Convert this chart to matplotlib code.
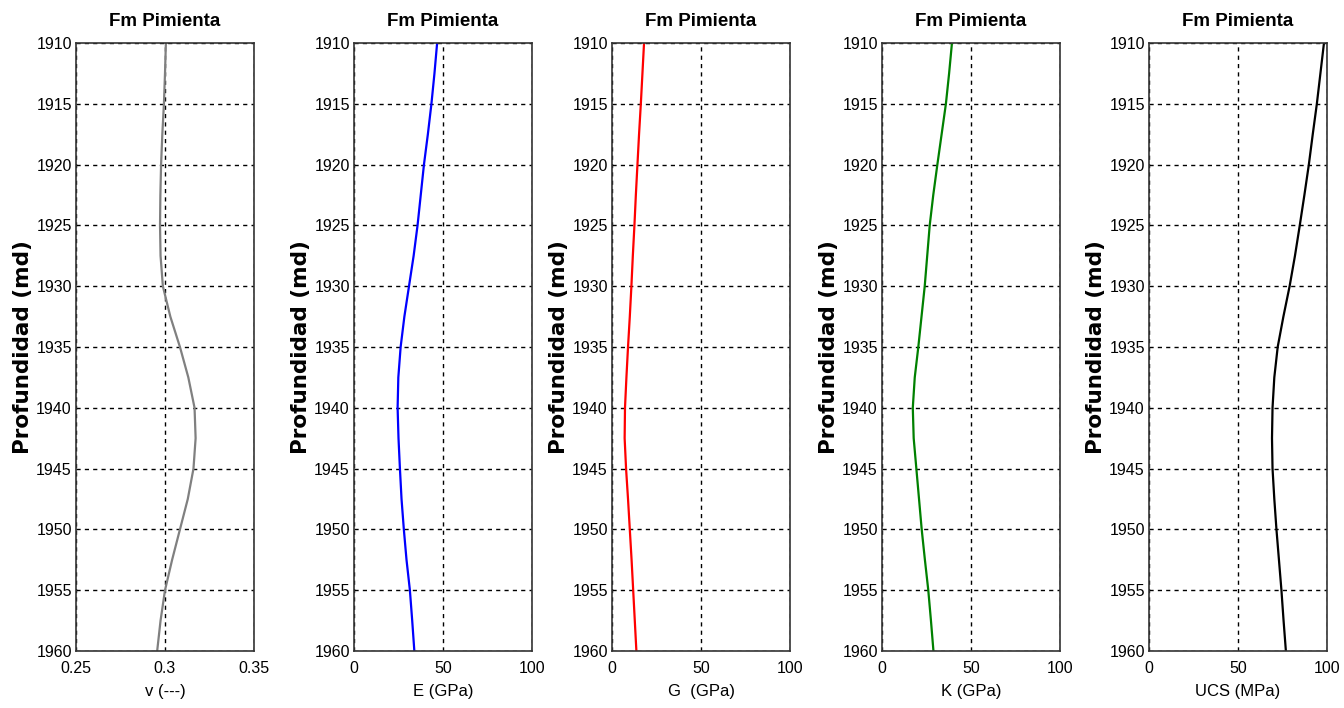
import numpy as np
import matplotlib
matplotlib.use('Agg')
import matplotlib.pyplot as plt

# depth samples (md)
depth = [1910, 1912.5, 1915, 1917.5, 1920, 1922.5, 1925, 1927.5, 1930, 1932.5, 1935,
         1937.5, 1940, 1942.5, 1945, 1947.5, 1950, 1952.5, 1955, 1957.5, 1960]

v_vals = [0.3005, 0.3000, 0.2994, 0.2985, 0.2978, 0.2974, 0.2972, 0.2975, 0.2988, 0.3030, 0.3084,
          0.3131, 0.3166, 0.3172, 0.3160, 0.3128, 0.3084, 0.3040, 0.3000, 0.2975, 0.2956]
e_vals = [46.7, 45.2, 43.5, 41.5, 39.3, 37.5, 35.7, 33.5, 30.9, 28.3, 26.2,
          24.9, 24.5, 25.0, 25.8, 26.7, 28.0, 29.5, 31.4, 32.7, 33.9]
g_vals = [18.0, 17.1, 16.2, 15.2, 14.3, 13.4, 12.6, 11.7, 10.9, 10.0, 9.0,
          8.1, 7.3, 7.1, 7.9, 9.0, 10.0, 11.0, 11.9, 12.8, 13.7]
k_vals = [39.3, 37.7, 35.9, 33.5, 31.1, 28.8, 26.8, 25.4, 24.0, 22.2, 20.4,
          18.4, 17.3, 17.8, 19.3, 20.8, 22.3, 24.1, 26.0, 27.5, 28.9]
ucs_vals = [98.3, 96.3, 94.3, 92.0, 89.8, 87.3, 84.7, 82.0, 79.0, 75.5, 72.3,
            70.4, 69.4, 69.1, 69.4, 70.4, 71.6, 73.0, 74.4, 75.6, 76.9]

xlabels = ['v (---)', 'E (GPa)', 'G  (GPa)', 'K (GPa)', 'UCS (MPa)']
colors = ['#808080', 'blue', 'red', 'green', 'black']
xlims = [(0.25, 0.35), (0, 100), (0, 100), (0, 100), (0, 100)]
xticks = [[0.25, 0.3, 0.35], [0, 50, 100], [0, 50, 100], [0, 50, 100], [0, 50, 100]]
xticklabels = [['0.25', '0.3', '0.35'], ['0', '50', '100'], ['0', '50', '100'],
               ['0', '50', '100'], ['0', '50', '100']]
yticks = [1910, 1915, 1920, 1925, 1930, 1935, 1940, 1945, 1950, 1955, 1960]

lefts_px = [76, 354, 612, 882, 1149]
W, H = 1344, 708
narrow = ['Liberation Sans Narrow', 'Liberation Sans', 'DejaVu Sans']

fig = plt.figure(figsize=(W / 100, H / 100), dpi=100)
series = [v_vals, e_vals, g_vals, k_vals, ucs_vals]

for i, vals in enumerate(series):
    ax = fig.add_axes([lefts_px[i] / W, 1 - 651 / H, 178 / W, 608 / H])
    ax.plot(vals, depth, color=colors[i], lw=1.6)
    ax.set_xlim(*xlims[i])
    ax.set_ylim(1960, 1910)
    ax.set_yticks(yticks)
    ax.set_xticks(xticks[i])
    ax.set_xticklabels(xticklabels[i], family=narrow, fontsize=11.5)
    ax.set_yticklabels([str(t) for t in yticks], family=narrow, fontsize=11.5)
    ax.tick_params(axis='y', length=0, pad=3)
    ax.tick_params(axis='x', length=0, pad=7)
    ax.grid(True, color='black', linestyle=(0, (3, 3)), lw=1)
    for s in ax.spines.values():
        s.set_color('#333333')
        s.set_linewidth(1.2)
    ax.set_title('Fm Pimienta', family=narrow, fontsize=13.5, fontweight='bold', pad=12)
    ax.set_xlabel(xlabels[i], family=narrow, fontsize=12, labelpad=6)
    ax.set_ylabel('Profundidad (md)', family='DejaVu Sans', fontsize=15.5,
                  fontweight='bold', labelpad=2)

fig.savefig('out.png', dpi=100)
